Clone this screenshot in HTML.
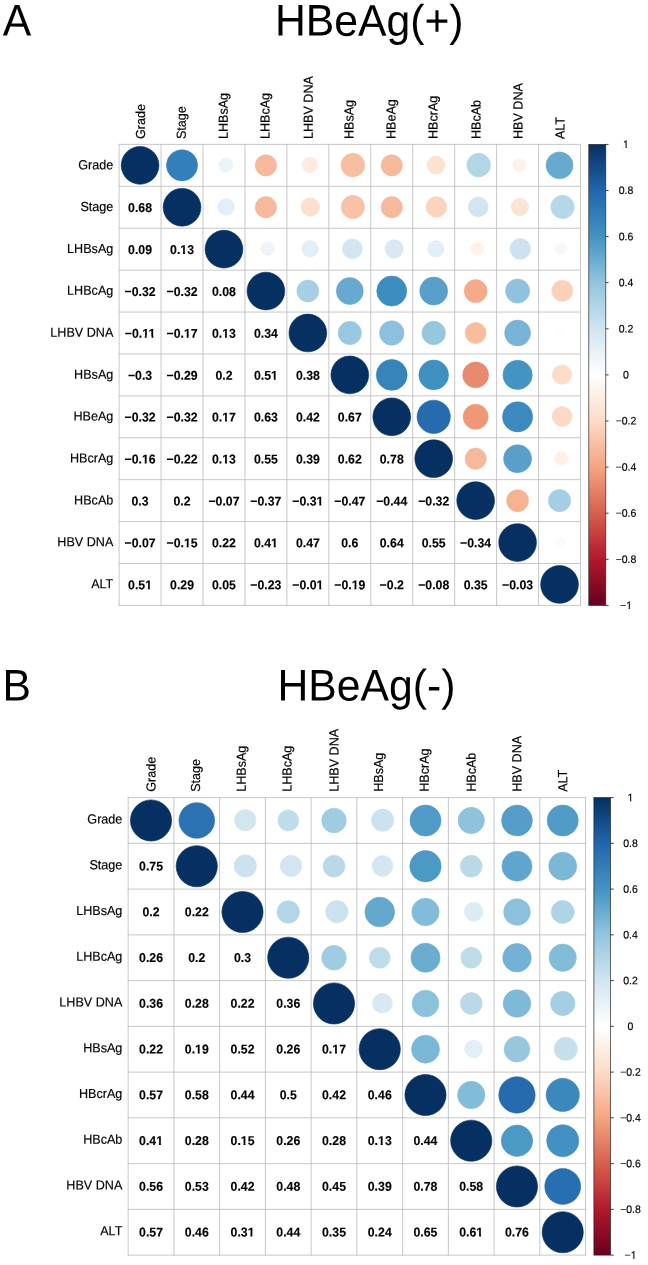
<!DOCTYPE html>
<html lang="en"><head><meta charset="utf-8"><title>Correlation plots</title>
<style>
html,body{margin:0;padding:0;background:#fff;}
body{width:648px;height:1265px;overflow:hidden;font-family:"Liberation Sans", sans-serif;}
svg{display:block;will-change:transform;}
</style></head>
<body>
<svg width="648" height="1265" viewBox="0 0 648 1265" font-family='"Liberation Sans", sans-serif' text-rendering="geometricPrecision">
<rect width="648" height="1265" fill="#fff"/>
<g font-size="42.70" fill="#000">
<text transform="translate(2.70 35.60) rotate(0.03) scale(1 1.035)">A</text>
<text transform="translate(274.95 35.60) rotate(0.03) scale(1 1.035)">HBeAg(+)</text>
<text transform="translate(2.60 700.50) rotate(0.03) scale(1 1.035)">B</text>
<text transform="translate(277.50 700.50) rotate(0.03) scale(1 1.035)">HBeAg(-)</text>
</g>
<circle cx="140.07" cy="165.35" r="18.87" fill="#053061" stroke="#053061" stroke-width="0.60"/>
<circle cx="182.02" cy="165.35" r="15.56" fill="#347FB9" stroke="#347FB9" stroke-width="0.60"/>
<circle cx="225.83" cy="165.05" r="7.16" fill="#E9F3F8" stroke="#E9F3F8" stroke-width="0.60"/>
<circle cx="265.91" cy="165.35" r="10.67" fill="#F7B99B" stroke="#F7B99B" stroke-width="0.60"/>
<circle cx="309.87" cy="165.05" r="7.76" fill="#FEEADF" stroke="#FEEADF" stroke-width="0.60"/>
<circle cx="352.88" cy="165.05" r="11.83" fill="#F8BEA2" stroke="#F8BEA2" stroke-width="0.60"/>
<circle cx="391.75" cy="165.35" r="10.67" fill="#F7B99B" stroke="#F7B99B" stroke-width="0.60"/>
<circle cx="436.04" cy="165.05" r="9.05" fill="#FDE1D1" stroke="#FDE1D1" stroke-width="0.60"/>
<circle cx="478.71" cy="165.05" r="11.83" fill="#B3D6E7" stroke="#B3D6E7" stroke-width="0.60"/>
<circle cx="519.27" cy="165.05" r="6.49" fill="#FEF1EA" stroke="#FEF1EA" stroke-width="0.60"/>
<circle cx="559.53" cy="165.35" r="13.47" fill="#68AACF" stroke="#68AACF" stroke-width="0.60"/>
<circle cx="182.02" cy="207.26" r="18.87" fill="#053061" stroke="#053061" stroke-width="0.60"/>
<circle cx="226.12" cy="206.96" r="8.30" fill="#E2EFF6" stroke="#E2EFF6" stroke-width="0.60"/>
<circle cx="265.91" cy="207.26" r="10.67" fill="#F7B99B" stroke="#F7B99B" stroke-width="0.60"/>
<circle cx="310.27" cy="206.96" r="9.28" fill="#FDDFCE" stroke="#FDDFCE" stroke-width="0.60"/>
<circle cx="352.83" cy="206.96" r="11.66" fill="#F9C1A6" stroke="#F9C1A6" stroke-width="0.60"/>
<circle cx="391.75" cy="207.26" r="10.67" fill="#F7B99B" stroke="#F7B99B" stroke-width="0.60"/>
<circle cx="436.38" cy="206.96" r="10.35" fill="#FCD4BE" stroke="#FCD4BE" stroke-width="0.60"/>
<circle cx="478.22" cy="206.96" r="9.94" fill="#D2E6F0" stroke="#D2E6F0" stroke-width="0.60"/>
<circle cx="519.87" cy="206.96" r="8.81" fill="#FDE3D3" stroke="#FDE3D3" stroke-width="0.60"/>
<circle cx="562.56" cy="206.96" r="11.66" fill="#B6D7E8" stroke="#B6D7E8" stroke-width="0.60"/>
<circle cx="223.96" cy="249.17" r="18.87" fill="#053061" stroke="#053061" stroke-width="0.60"/>
<circle cx="267.69" cy="248.87" r="6.84" fill="#EEF5F9" stroke="#EEF5F9" stroke-width="0.60"/>
<circle cx="310.01" cy="248.87" r="8.30" fill="#E2EFF6" stroke="#E2EFF6" stroke-width="0.60"/>
<circle cx="352.38" cy="248.87" r="9.94" fill="#D2E6F0" stroke="#D2E6F0" stroke-width="0.60"/>
<circle cx="394.16" cy="248.87" r="9.28" fill="#D9E9F3" stroke="#D9E9F3" stroke-width="0.60"/>
<circle cx="435.85" cy="248.87" r="8.30" fill="#E2EFF6" stroke="#E2EFF6" stroke-width="0.60"/>
<circle cx="477.32" cy="248.87" r="6.49" fill="#FEF1EA" stroke="#FEF1EA" stroke-width="0.60"/>
<circle cx="520.27" cy="248.87" r="10.35" fill="#CCE2EF" stroke="#CCE2EF" stroke-width="0.60"/>
<circle cx="561.01" cy="248.87" r="5.72" fill="#F5F9FC" stroke="#F5F9FC" stroke-width="0.60"/>
<circle cx="265.91" cy="291.08" r="18.87" fill="#053061" stroke="#053061" stroke-width="0.60"/>
<circle cx="307.85" cy="291.08" r="11.00" fill="#A6CFE4" stroke="#A6CFE4" stroke-width="0.60"/>
<circle cx="349.80" cy="291.08" r="13.47" fill="#68AACF" stroke="#68AACF" stroke-width="0.60"/>
<circle cx="391.75" cy="291.08" r="14.98" fill="#3E8DC0" stroke="#3E8DC0" stroke-width="0.60"/>
<circle cx="433.69" cy="291.08" r="13.99" fill="#58A0CA" stroke="#58A0CA" stroke-width="0.60"/>
<circle cx="475.64" cy="291.08" r="11.48" fill="#F5AB8A" stroke="#F5AB8A" stroke-width="0.60"/>
<circle cx="517.58" cy="291.08" r="12.08" fill="#8FC3DD" stroke="#8FC3DD" stroke-width="0.60"/>
<circle cx="562.27" cy="290.78" r="10.55" fill="#FBD1BB" stroke="#FBD1BB" stroke-width="0.60"/>
<circle cx="307.85" cy="332.99" r="18.87" fill="#053061" stroke="#053061" stroke-width="0.60"/>
<circle cx="349.80" cy="332.99" r="11.63" fill="#99C9E0" stroke="#99C9E0" stroke-width="0.60"/>
<circle cx="391.75" cy="332.99" r="12.23" fill="#8BC1DC" stroke="#8BC1DC" stroke-width="0.60"/>
<circle cx="433.69" cy="332.99" r="11.78" fill="#96C7DF" stroke="#96C7DF" stroke-width="0.60"/>
<circle cx="475.64" cy="332.99" r="10.50" fill="#F8BC9F" stroke="#F8BC9F" stroke-width="0.60"/>
<circle cx="517.58" cy="332.99" r="12.93" fill="#77B4D5" stroke="#77B4D5" stroke-width="0.60"/>
<circle cx="560.41" cy="332.69" r="3.39" fill="#FFFCFB" stroke="#FFFCFB" stroke-width="0.60"/>
<circle cx="349.80" cy="374.90" r="18.87" fill="#053061" stroke="#053061" stroke-width="0.60"/>
<circle cx="391.75" cy="374.90" r="15.44" fill="#3784BB" stroke="#3784BB" stroke-width="0.60"/>
<circle cx="433.69" cy="374.90" r="14.86" fill="#408FC1" stroke="#408FC1" stroke-width="0.60"/>
<circle cx="475.64" cy="374.90" r="12.93" fill="#E88A6D" stroke="#E88A6D" stroke-width="0.60"/>
<circle cx="517.58" cy="374.90" r="14.61" fill="#4494C3" stroke="#4494C3" stroke-width="0.60"/>
<circle cx="562.06" cy="374.60" r="9.72" fill="#FDDCC8" stroke="#FDDCC8" stroke-width="0.60"/>
<circle cx="391.75" cy="416.81" r="18.87" fill="#053061" stroke="#053061" stroke-width="0.60"/>
<circle cx="433.69" cy="416.81" r="16.66" fill="#256BAE" stroke="#256BAE" stroke-width="0.60"/>
<circle cx="475.64" cy="416.81" r="12.52" fill="#EE9878" stroke="#EE9878" stroke-width="0.60"/>
<circle cx="517.58" cy="416.81" r="15.09" fill="#3D8ABF" stroke="#3D8ABF" stroke-width="0.60"/>
<circle cx="562.11" cy="416.51" r="9.94" fill="#FDD9C5" stroke="#FDD9C5" stroke-width="0.60"/>
<circle cx="433.69" cy="458.72" r="18.87" fill="#053061" stroke="#053061" stroke-width="0.60"/>
<circle cx="475.64" cy="458.72" r="10.67" fill="#F7B99B" stroke="#F7B99B" stroke-width="0.60"/>
<circle cx="517.58" cy="458.72" r="13.99" fill="#58A0CA" stroke="#58A0CA" stroke-width="0.60"/>
<circle cx="561.30" cy="458.42" r="6.84" fill="#FEF0E7" stroke="#FEF0E7" stroke-width="0.60"/>
<circle cx="475.64" cy="500.63" r="18.87" fill="#053061" stroke="#053061" stroke-width="0.60"/>
<circle cx="517.58" cy="500.63" r="11.00" fill="#F6B394" stroke="#F6B394" stroke-width="0.60"/>
<circle cx="559.53" cy="500.63" r="11.16" fill="#A3CEE3" stroke="#A3CEE3" stroke-width="0.60"/>
<circle cx="517.58" cy="542.54" r="18.87" fill="#053061" stroke="#053061" stroke-width="0.60"/>
<circle cx="560.77" cy="542.24" r="4.77" fill="#FFF9F5" stroke="#FFF9F5" stroke-width="0.60"/>
<circle cx="559.53" cy="584.45" r="18.87" fill="#053061" stroke="#053061" stroke-width="0.60"/>
<path d="M119.10 144.40V605.40M119.10 144.40H580.50M161.05 144.40V605.40M119.10 186.31H580.50M202.99 144.40V605.40M119.10 228.22H580.50M244.94 144.40V605.40M119.10 270.13H580.50M286.88 144.40V605.40M119.10 312.04H580.50M328.83 144.40V605.40M119.10 353.95H580.50M370.77 144.40V605.40M119.10 395.85H580.50M412.72 144.40V605.40M119.10 437.76H580.50M454.66 144.40V605.40M119.10 479.67H580.50M496.61 144.40V605.40M119.10 521.58H580.50M538.55 144.40V605.40M119.10 563.49H580.50M580.50 144.40V605.40M119.10 605.40H580.50" fill="none" stroke="#BDBDBD" stroke-width="0.85" stroke-linecap="square"/>
<g font-size="12.30" font-weight="bold" text-anchor="middle" fill="#000" stroke="#000" stroke-width="0.12">
<text transform="translate(140.07 212.06) rotate(0.03) scale(1 1.04)">0.68</text>
<text transform="translate(140.07 253.97) rotate(0.03) scale(1 1.04)">0.09</text>
<text transform="translate(182.02 253.97) rotate(0.03) scale(1 1.04)">0.13</text>
<text transform="translate(140.07 295.88) rotate(0.03) scale(1 1.04)">−0.32</text>
<text transform="translate(182.02 295.88) rotate(0.03) scale(1 1.04)">−0.32</text>
<text transform="translate(223.96 295.88) rotate(0.03) scale(1 1.04)">0.08</text>
<text transform="translate(140.07 337.79) rotate(0.03) scale(1 1.04)">−0.11</text>
<text transform="translate(182.02 337.79) rotate(0.03) scale(1 1.04)">−0.17</text>
<text transform="translate(223.96 337.79) rotate(0.03) scale(1 1.04)">0.13</text>
<text transform="translate(265.91 337.79) rotate(0.03) scale(1 1.04)">0.34</text>
<text transform="translate(140.07 379.70) rotate(0.03) scale(1 1.04)">−0.3</text>
<text transform="translate(182.02 379.70) rotate(0.03) scale(1 1.04)">−0.29</text>
<text transform="translate(223.96 379.70) rotate(0.03) scale(1 1.04)">0.2</text>
<text transform="translate(265.91 379.70) rotate(0.03) scale(1 1.04)">0.51</text>
<text transform="translate(307.85 379.70) rotate(0.03) scale(1 1.04)">0.38</text>
<text transform="translate(140.07 421.61) rotate(0.03) scale(1 1.04)">−0.32</text>
<text transform="translate(182.02 421.61) rotate(0.03) scale(1 1.04)">−0.32</text>
<text transform="translate(223.96 421.61) rotate(0.03) scale(1 1.04)">0.17</text>
<text transform="translate(265.91 421.61) rotate(0.03) scale(1 1.04)">0.63</text>
<text transform="translate(307.85 421.61) rotate(0.03) scale(1 1.04)">0.42</text>
<text transform="translate(349.80 421.61) rotate(0.03) scale(1 1.04)">0.67</text>
<text transform="translate(140.07 463.52) rotate(0.03) scale(1 1.04)">−0.16</text>
<text transform="translate(182.02 463.52) rotate(0.03) scale(1 1.04)">−0.22</text>
<text transform="translate(223.96 463.52) rotate(0.03) scale(1 1.04)">0.13</text>
<text transform="translate(265.91 463.52) rotate(0.03) scale(1 1.04)">0.55</text>
<text transform="translate(307.85 463.52) rotate(0.03) scale(1 1.04)">0.39</text>
<text transform="translate(349.80 463.52) rotate(0.03) scale(1 1.04)">0.62</text>
<text transform="translate(391.75 463.52) rotate(0.03) scale(1 1.04)">0.78</text>
<text transform="translate(140.07 505.43) rotate(0.03) scale(1 1.04)">0.3</text>
<text transform="translate(182.02 505.43) rotate(0.03) scale(1 1.04)">0.2</text>
<text transform="translate(223.96 505.43) rotate(0.03) scale(1 1.04)">−0.07</text>
<text transform="translate(265.91 505.43) rotate(0.03) scale(1 1.04)">−0.37</text>
<text transform="translate(307.85 505.43) rotate(0.03) scale(1 1.04)">−0.31</text>
<text transform="translate(349.80 505.43) rotate(0.03) scale(1 1.04)">−0.47</text>
<text transform="translate(391.75 505.43) rotate(0.03) scale(1 1.04)">−0.44</text>
<text transform="translate(433.69 505.43) rotate(0.03) scale(1 1.04)">−0.32</text>
<text transform="translate(140.07 547.34) rotate(0.03) scale(1 1.04)">−0.07</text>
<text transform="translate(182.02 547.34) rotate(0.03) scale(1 1.04)">−0.15</text>
<text transform="translate(223.96 547.34) rotate(0.03) scale(1 1.04)">0.22</text>
<text transform="translate(265.91 547.34) rotate(0.03) scale(1 1.04)">0.41</text>
<text transform="translate(307.85 547.34) rotate(0.03) scale(1 1.04)">0.47</text>
<text transform="translate(349.80 547.34) rotate(0.03) scale(1 1.04)">0.6</text>
<text transform="translate(391.75 547.34) rotate(0.03) scale(1 1.04)">0.64</text>
<text transform="translate(433.69 547.34) rotate(0.03) scale(1 1.04)">0.55</text>
<text transform="translate(475.64 547.34) rotate(0.03) scale(1 1.04)">−0.34</text>
<text transform="translate(140.07 589.25) rotate(0.03) scale(1 1.04)">0.51</text>
<text transform="translate(182.02 589.25) rotate(0.03) scale(1 1.04)">0.29</text>
<text transform="translate(223.96 589.25) rotate(0.03) scale(1 1.04)">0.05</text>
<text transform="translate(265.91 589.25) rotate(0.03) scale(1 1.04)">−0.23</text>
<text transform="translate(307.85 589.25) rotate(0.03) scale(1 1.04)">−0.01</text>
<text transform="translate(349.80 589.25) rotate(0.03) scale(1 1.04)">−0.19</text>
<text transform="translate(391.75 589.25) rotate(0.03) scale(1 1.04)">−0.2</text>
<text transform="translate(433.69 589.25) rotate(0.03) scale(1 1.04)">−0.08</text>
<text transform="translate(475.64 589.25) rotate(0.03) scale(1 1.04)">0.35</text>
<text transform="translate(517.58 589.25) rotate(0.03) scale(1 1.04)">−0.03</text>
</g>
<rect x="180.57" y="252.21" width="2.45" height="2.28" fill="#fff"/>
<rect x="185.03" y="252.21" width="2.29" height="2.28" fill="#fff"/>
<rect x="142.22" y="336.03" width="2.45" height="2.28" fill="#fff"/>
<rect x="146.67" y="336.03" width="2.29" height="2.28" fill="#fff"/>
<rect x="149.06" y="336.03" width="2.45" height="2.28" fill="#fff"/>
<rect x="153.51" y="336.03" width="2.29" height="2.28" fill="#fff"/>
<rect x="184.16" y="336.03" width="2.45" height="2.28" fill="#fff"/>
<rect x="188.62" y="336.03" width="2.29" height="2.28" fill="#fff"/>
<rect x="222.52" y="336.03" width="2.45" height="2.28" fill="#fff"/>
<rect x="226.97" y="336.03" width="2.29" height="2.28" fill="#fff"/>
<rect x="271.30" y="377.93" width="2.45" height="2.28" fill="#fff"/>
<rect x="275.76" y="377.93" width="2.29" height="2.28" fill="#fff"/>
<rect x="222.52" y="419.84" width="2.45" height="2.28" fill="#fff"/>
<rect x="226.97" y="419.84" width="2.29" height="2.28" fill="#fff"/>
<rect x="142.22" y="461.75" width="2.45" height="2.28" fill="#fff"/>
<rect x="146.67" y="461.75" width="2.29" height="2.28" fill="#fff"/>
<rect x="222.52" y="461.75" width="2.45" height="2.28" fill="#fff"/>
<rect x="226.97" y="461.75" width="2.29" height="2.28" fill="#fff"/>
<rect x="316.84" y="503.66" width="2.45" height="2.28" fill="#fff"/>
<rect x="321.29" y="503.66" width="2.29" height="2.28" fill="#fff"/>
<rect x="184.16" y="545.57" width="2.45" height="2.28" fill="#fff"/>
<rect x="188.62" y="545.57" width="2.29" height="2.28" fill="#fff"/>
<rect x="271.30" y="545.57" width="2.45" height="2.28" fill="#fff"/>
<rect x="275.76" y="545.57" width="2.29" height="2.28" fill="#fff"/>
<rect x="145.47" y="587.48" width="2.45" height="2.28" fill="#fff"/>
<rect x="149.92" y="587.48" width="2.29" height="2.28" fill="#fff"/>
<rect x="316.84" y="587.48" width="2.45" height="2.28" fill="#fff"/>
<rect x="321.29" y="587.48" width="2.29" height="2.28" fill="#fff"/>
<rect x="351.95" y="587.48" width="2.45" height="2.28" fill="#fff"/>
<rect x="356.40" y="587.48" width="2.29" height="2.28" fill="#fff"/>
<g font-size="12.60" text-anchor="end" fill="#000" stroke="#000" stroke-width="0.16">
<text transform="translate(113.30 169.15) rotate(0.03) scale(1 1.04)">Grade</text>
<text transform="translate(113.30 211.06) rotate(0.03) scale(1 1.04)">Stage</text>
<text transform="translate(113.30 252.97) rotate(0.03) scale(1 1.04)">LHBsAg</text>
<text transform="translate(113.30 294.88) rotate(0.03) scale(1 1.04)">LHBcAg</text>
<text transform="translate(113.30 336.79) rotate(0.03) scale(1 1.04)">LHBV DNA</text>
<text transform="translate(113.30 378.70) rotate(0.03) scale(1 1.04)">HBsAg</text>
<text transform="translate(113.30 420.61) rotate(0.03) scale(1 1.04)">HBeAg</text>
<text transform="translate(113.30 462.52) rotate(0.03) scale(1 1.04)">HBcrAg</text>
<text transform="translate(113.30 504.43) rotate(0.03) scale(1 1.04)">HBcAb</text>
<text transform="translate(113.30 546.34) rotate(0.03) scale(1 1.04)">HBV DNA</text>
<text transform="translate(113.30 588.25) rotate(0.03) scale(1 1.04)">ALT</text>
</g>
<g font-size="12.60" text-anchor="start" fill="#000" stroke="#000" stroke-width="0.16">
<text transform="translate(144.97 139.10) rotate(-90.03) scale(1 1.04)">Grade</text>
<text transform="translate(185.72 139.10) rotate(-90.03) scale(1 1.04)">Stage</text>
<text transform="translate(227.66 139.10) rotate(-90.03) scale(1 1.04)">LHBsAg</text>
<text transform="translate(269.61 139.10) rotate(-90.03) scale(1 1.04)">LHBcAg</text>
<text transform="translate(312.75 139.10) rotate(-90.03) scale(1 1.04)">LHBV DNA</text>
<text transform="translate(353.50 139.10) rotate(-90.03) scale(1 1.04)">HBsAg</text>
<text transform="translate(395.45 139.10) rotate(-90.03) scale(1 1.04)">HBeAg</text>
<text transform="translate(437.39 139.10) rotate(-90.03) scale(1 1.04)">HBcrAg</text>
<text transform="translate(480.54 139.10) rotate(-90.03) scale(1 1.04)">HBcAb</text>
<text transform="translate(522.48 139.10) rotate(-90.03) scale(1 1.04)">HBV DNA</text>
<text transform="translate(564.43 139.10) rotate(-90.03) scale(1 1.04)">ALT</text>
</g>
<defs><linearGradient id="cba" x1="0" y1="0" x2="0" y2="1"><stop offset="0.0%" stop-color="#053061"/><stop offset="10.0%" stop-color="#2166AC"/><stop offset="20.0%" stop-color="#4393C3"/><stop offset="30.0%" stop-color="#92C5DE"/><stop offset="40.0%" stop-color="#D1E5F0"/><stop offset="50.0%" stop-color="#FFFFFF"/><stop offset="60.0%" stop-color="#FDDBC7"/><stop offset="70.0%" stop-color="#F4A582"/><stop offset="80.0%" stop-color="#D6604D"/><stop offset="90.0%" stop-color="#B2182B"/><stop offset="100.0%" stop-color="#67001F"/></linearGradient></defs>
<rect x="588.80" y="144.40" width="17.00" height="461.00" fill="url(#cba)" stroke="#2a2a2a" stroke-width="0.7"/>
<path d="M605.80 144.40H608.60M605.80 190.50H608.60M605.80 236.60H608.60M605.80 282.70H608.60M605.80 328.80H608.60M605.80 374.90H608.60M605.80 421.00H608.60M605.80 467.10H608.60M605.80 513.20H608.60M605.80 559.30H608.60M605.80 605.40H608.60" fill="none" stroke="#111" stroke-width="0.8"/>
<g font-size="10.50" text-anchor="middle" fill="#000" stroke="#000" stroke-width="0.16">
<text transform="translate(626.00 148.00) rotate(0.03) scale(1 1.04)">1</text>
<text transform="translate(626.00 194.10) rotate(0.03) scale(1 1.04)">0.8</text>
<text transform="translate(626.00 240.20) rotate(0.03) scale(1 1.04)">0.6</text>
<text transform="translate(626.00 286.30) rotate(0.03) scale(1 1.04)">0.4</text>
<text transform="translate(626.00 332.40) rotate(0.03) scale(1 1.04)">0.2</text>
<text transform="translate(626.00 378.50) rotate(0.03) scale(1 1.04)">0</text>
<text transform="translate(626.00 424.60) rotate(0.03) scale(1 1.04)">−0.2</text>
<text transform="translate(626.00 470.70) rotate(0.03) scale(1 1.04)">−0.4</text>
<text transform="translate(626.00 516.80) rotate(0.03) scale(1 1.04)">−0.6</text>
<text transform="translate(626.00 562.90) rotate(0.03) scale(1 1.04)">−0.8</text>
<text transform="translate(626.00 609.00) rotate(0.03) scale(1 1.04)">−1</text>
</g>
<rect x="623.35" y="146.69" width="2.19" height="1.84" fill="#fff"/>
<rect x="626.83" y="146.69" width="2.11" height="1.84" fill="#fff"/>
<rect x="626.42" y="607.69" width="2.19" height="1.84" fill="#fff"/>
<rect x="629.90" y="607.69" width="2.11" height="1.84" fill="#fff"/>
<circle cx="151.02" cy="820.48" r="20.59" fill="#053061" stroke="#053061" stroke-width="0.60"/>
<circle cx="196.77" cy="820.48" r="17.83" fill="#2A72B2" stroke="#2A72B2" stroke-width="0.60"/>
<circle cx="245.30" cy="820.18" r="10.71" fill="#D2E6F0" stroke="#D2E6F0" stroke-width="0.60"/>
<circle cx="288.26" cy="820.48" r="10.50" fill="#BFDCEB" stroke="#BFDCEB" stroke-width="0.60"/>
<circle cx="334.00" cy="820.48" r="12.35" fill="#A0CCE2" stroke="#A0CCE2" stroke-width="0.60"/>
<circle cx="382.65" cy="820.18" r="11.16" fill="#CCE2EF" stroke="#CCE2EF" stroke-width="0.60"/>
<circle cx="425.49" cy="820.48" r="15.54" fill="#509BC7" stroke="#509BC7" stroke-width="0.60"/>
<circle cx="471.24" cy="820.48" r="13.18" fill="#8FC3DD" stroke="#8FC3DD" stroke-width="0.60"/>
<circle cx="516.98" cy="820.48" r="15.41" fill="#549EC9" stroke="#549EC9" stroke-width="0.60"/>
<circle cx="562.73" cy="820.48" r="15.54" fill="#509BC7" stroke="#509BC7" stroke-width="0.60"/>
<circle cx="196.77" cy="866.23" r="20.59" fill="#053061" stroke="#053061" stroke-width="0.60"/>
<circle cx="245.41" cy="865.93" r="11.16" fill="#CCE2EF" stroke="#CCE2EF" stroke-width="0.60"/>
<circle cx="291.04" cy="865.93" r="10.71" fill="#D2E6F0" stroke="#D2E6F0" stroke-width="0.60"/>
<circle cx="334.00" cy="866.23" r="10.89" fill="#B9D9E9" stroke="#B9D9E9" stroke-width="0.60"/>
<circle cx="382.47" cy="865.93" r="10.47" fill="#D4E7F1" stroke="#D4E7F1" stroke-width="0.60"/>
<circle cx="425.49" cy="866.23" r="15.68" fill="#4C99C6" stroke="#4C99C6" stroke-width="0.60"/>
<circle cx="471.24" cy="866.23" r="10.89" fill="#B9D9E9" stroke="#B9D9E9" stroke-width="0.60"/>
<circle cx="516.98" cy="866.23" r="14.99" fill="#60A5CD" stroke="#60A5CD" stroke-width="0.60"/>
<circle cx="562.73" cy="866.23" r="13.96" fill="#7BB7D6" stroke="#7BB7D6" stroke-width="0.60"/>
<circle cx="242.51" cy="911.98" r="20.59" fill="#053061" stroke="#053061" stroke-width="0.60"/>
<circle cx="288.26" cy="911.98" r="11.28" fill="#B3D6E7" stroke="#B3D6E7" stroke-width="0.60"/>
<circle cx="336.90" cy="911.68" r="11.16" fill="#CCE2EF" stroke="#CCE2EF" stroke-width="0.60"/>
<circle cx="379.75" cy="911.98" r="14.85" fill="#64A8CE" stroke="#64A8CE" stroke-width="0.60"/>
<circle cx="425.49" cy="911.98" r="13.66" fill="#83BCD9" stroke="#83BCD9" stroke-width="0.60"/>
<circle cx="473.70" cy="911.68" r="9.47" fill="#DDECF4" stroke="#DDECF4" stroke-width="0.60"/>
<circle cx="516.98" cy="911.98" r="13.34" fill="#8BC1DC" stroke="#8BC1DC" stroke-width="0.60"/>
<circle cx="562.73" cy="911.98" r="11.46" fill="#AFD4E6" stroke="#AFD4E6" stroke-width="0.60"/>
<circle cx="288.26" cy="957.72" r="20.59" fill="#053061" stroke="#053061" stroke-width="0.60"/>
<circle cx="334.00" cy="957.72" r="12.35" fill="#A0CCE2" stroke="#A0CCE2" stroke-width="0.60"/>
<circle cx="379.75" cy="957.72" r="10.50" fill="#BFDCEB" stroke="#BFDCEB" stroke-width="0.60"/>
<circle cx="425.49" cy="957.72" r="14.56" fill="#6BADD1" stroke="#6BADD1" stroke-width="0.60"/>
<circle cx="471.24" cy="957.72" r="10.50" fill="#BFDCEB" stroke="#BFDCEB" stroke-width="0.60"/>
<circle cx="516.98" cy="957.72" r="14.26" fill="#73B2D4" stroke="#73B2D4" stroke-width="0.60"/>
<circle cx="562.73" cy="957.72" r="13.66" fill="#83BCD9" stroke="#83BCD9" stroke-width="0.60"/>
<circle cx="334.00" cy="1003.47" r="20.59" fill="#053061" stroke="#053061" stroke-width="0.60"/>
<circle cx="382.34" cy="1003.17" r="9.99" fill="#D9E9F3" stroke="#D9E9F3" stroke-width="0.60"/>
<circle cx="425.49" cy="1003.47" r="13.34" fill="#8BC1DC" stroke="#8BC1DC" stroke-width="0.60"/>
<circle cx="471.24" cy="1003.47" r="10.89" fill="#B9D9E9" stroke="#B9D9E9" stroke-width="0.60"/>
<circle cx="516.98" cy="1003.47" r="13.81" fill="#7FB9D8" stroke="#7FB9D8" stroke-width="0.60"/>
<circle cx="562.73" cy="1003.47" r="12.18" fill="#A3CEE3" stroke="#A3CEE3" stroke-width="0.60"/>
<circle cx="379.75" cy="1049.22" r="20.59" fill="#053061" stroke="#053061" stroke-width="0.60"/>
<circle cx="425.49" cy="1049.22" r="13.96" fill="#7BB7D6" stroke="#7BB7D6" stroke-width="0.60"/>
<circle cx="473.56" cy="1048.92" r="8.92" fill="#E2EFF6" stroke="#E2EFF6" stroke-width="0.60"/>
<circle cx="516.98" cy="1049.22" r="12.86" fill="#96C7DF" stroke="#96C7DF" stroke-width="0.60"/>
<circle cx="565.74" cy="1048.92" r="11.59" fill="#C6DFED" stroke="#C6DFED" stroke-width="0.60"/>
<circle cx="425.49" cy="1094.97" r="20.59" fill="#053061" stroke="#053061" stroke-width="0.60"/>
<circle cx="471.24" cy="1094.97" r="13.66" fill="#83BCD9" stroke="#83BCD9" stroke-width="0.60"/>
<circle cx="516.98" cy="1094.97" r="18.18" fill="#256BAE" stroke="#256BAE" stroke-width="0.60"/>
<circle cx="562.73" cy="1094.97" r="16.60" fill="#3B88BD" stroke="#3B88BD" stroke-width="0.60"/>
<circle cx="471.24" cy="1140.72" r="20.59" fill="#053061" stroke="#053061" stroke-width="0.60"/>
<circle cx="516.98" cy="1140.72" r="15.68" fill="#4C99C6" stroke="#4C99C6" stroke-width="0.60"/>
<circle cx="562.73" cy="1140.72" r="16.08" fill="#4291C2" stroke="#4291C2" stroke-width="0.60"/>
<circle cx="516.98" cy="1186.47" r="20.59" fill="#053061" stroke="#053061" stroke-width="0.60"/>
<circle cx="562.73" cy="1186.47" r="17.95" fill="#286FB1" stroke="#286FB1" stroke-width="0.60"/>
<circle cx="562.73" cy="1232.22" r="20.59" fill="#053061" stroke="#053061" stroke-width="0.60"/>
<path d="M128.15 797.60V1255.10M128.15 797.60H585.60M173.90 797.60V1255.10M128.15 843.35H585.60M219.64 797.60V1255.10M128.15 889.10H585.60M265.38 797.60V1255.10M128.15 934.85H585.60M311.13 797.60V1255.10M128.15 980.60H585.60M356.88 797.60V1255.10M128.15 1026.35H585.60M402.62 797.60V1255.10M128.15 1072.10H585.60M448.37 797.60V1255.10M128.15 1117.85H585.60M494.11 797.60V1255.10M128.15 1163.60H585.60M539.86 797.60V1255.10M128.15 1209.35H585.60M585.60 797.60V1255.10M128.15 1255.10H585.60" fill="none" stroke="#BDBDBD" stroke-width="0.85" stroke-linecap="square"/>
<g font-size="12.30" font-weight="bold" text-anchor="middle" fill="#000" stroke="#000" stroke-width="0.12">
<text transform="translate(151.02 870.52) rotate(0.03) scale(1 1.04)">0.75</text>
<text transform="translate(151.02 916.27) rotate(0.03) scale(1 1.04)">0.2</text>
<text transform="translate(196.77 916.27) rotate(0.03) scale(1 1.04)">0.22</text>
<text transform="translate(151.02 962.02) rotate(0.03) scale(1 1.04)">0.26</text>
<text transform="translate(196.77 962.02) rotate(0.03) scale(1 1.04)">0.2</text>
<text transform="translate(242.51 962.02) rotate(0.03) scale(1 1.04)">0.3</text>
<text transform="translate(151.02 1007.77) rotate(0.03) scale(1 1.04)">0.36</text>
<text transform="translate(196.77 1007.77) rotate(0.03) scale(1 1.04)">0.28</text>
<text transform="translate(242.51 1007.77) rotate(0.03) scale(1 1.04)">0.22</text>
<text transform="translate(288.26 1007.77) rotate(0.03) scale(1 1.04)">0.36</text>
<text transform="translate(151.02 1053.52) rotate(0.03) scale(1 1.04)">0.22</text>
<text transform="translate(196.77 1053.52) rotate(0.03) scale(1 1.04)">0.19</text>
<text transform="translate(242.51 1053.52) rotate(0.03) scale(1 1.04)">0.52</text>
<text transform="translate(288.26 1053.52) rotate(0.03) scale(1 1.04)">0.26</text>
<text transform="translate(334.00 1053.52) rotate(0.03) scale(1 1.04)">0.17</text>
<text transform="translate(151.02 1099.27) rotate(0.03) scale(1 1.04)">0.57</text>
<text transform="translate(196.77 1099.27) rotate(0.03) scale(1 1.04)">0.58</text>
<text transform="translate(242.51 1099.27) rotate(0.03) scale(1 1.04)">0.44</text>
<text transform="translate(288.26 1099.27) rotate(0.03) scale(1 1.04)">0.5</text>
<text transform="translate(334.00 1099.27) rotate(0.03) scale(1 1.04)">0.42</text>
<text transform="translate(379.75 1099.27) rotate(0.03) scale(1 1.04)">0.46</text>
<text transform="translate(151.02 1145.02) rotate(0.03) scale(1 1.04)">0.41</text>
<text transform="translate(196.77 1145.02) rotate(0.03) scale(1 1.04)">0.28</text>
<text transform="translate(242.51 1145.02) rotate(0.03) scale(1 1.04)">0.15</text>
<text transform="translate(288.26 1145.02) rotate(0.03) scale(1 1.04)">0.26</text>
<text transform="translate(334.00 1145.02) rotate(0.03) scale(1 1.04)">0.28</text>
<text transform="translate(379.75 1145.02) rotate(0.03) scale(1 1.04)">0.13</text>
<text transform="translate(425.49 1145.02) rotate(0.03) scale(1 1.04)">0.44</text>
<text transform="translate(151.02 1190.77) rotate(0.03) scale(1 1.04)">0.56</text>
<text transform="translate(196.77 1190.77) rotate(0.03) scale(1 1.04)">0.53</text>
<text transform="translate(242.51 1190.77) rotate(0.03) scale(1 1.04)">0.42</text>
<text transform="translate(288.26 1190.77) rotate(0.03) scale(1 1.04)">0.48</text>
<text transform="translate(334.00 1190.77) rotate(0.03) scale(1 1.04)">0.45</text>
<text transform="translate(379.75 1190.77) rotate(0.03) scale(1 1.04)">0.39</text>
<text transform="translate(425.49 1190.77) rotate(0.03) scale(1 1.04)">0.78</text>
<text transform="translate(471.24 1190.77) rotate(0.03) scale(1 1.04)">0.58</text>
<text transform="translate(151.02 1236.52) rotate(0.03) scale(1 1.04)">0.57</text>
<text transform="translate(196.77 1236.52) rotate(0.03) scale(1 1.04)">0.46</text>
<text transform="translate(242.51 1236.52) rotate(0.03) scale(1 1.04)">0.31</text>
<text transform="translate(288.26 1236.52) rotate(0.03) scale(1 1.04)">0.44</text>
<text transform="translate(334.00 1236.52) rotate(0.03) scale(1 1.04)">0.35</text>
<text transform="translate(379.75 1236.52) rotate(0.03) scale(1 1.04)">0.24</text>
<text transform="translate(425.49 1236.52) rotate(0.03) scale(1 1.04)">0.65</text>
<text transform="translate(471.24 1236.52) rotate(0.03) scale(1 1.04)">0.61</text>
<text transform="translate(516.98 1236.52) rotate(0.03) scale(1 1.04)">0.76</text>
</g>
<rect x="195.32" y="1051.76" width="2.45" height="2.28" fill="#fff"/>
<rect x="199.78" y="1051.76" width="2.29" height="2.28" fill="#fff"/>
<rect x="332.56" y="1051.76" width="2.45" height="2.28" fill="#fff"/>
<rect x="337.01" y="1051.76" width="2.29" height="2.28" fill="#fff"/>
<rect x="156.42" y="1143.26" width="2.45" height="2.28" fill="#fff"/>
<rect x="160.87" y="1143.26" width="2.29" height="2.28" fill="#fff"/>
<rect x="241.07" y="1143.26" width="2.45" height="2.28" fill="#fff"/>
<rect x="245.52" y="1143.26" width="2.29" height="2.28" fill="#fff"/>
<rect x="378.30" y="1143.26" width="2.45" height="2.28" fill="#fff"/>
<rect x="382.76" y="1143.26" width="2.29" height="2.28" fill="#fff"/>
<rect x="247.91" y="1234.76" width="2.45" height="2.28" fill="#fff"/>
<rect x="252.36" y="1234.76" width="2.29" height="2.28" fill="#fff"/>
<rect x="476.63" y="1234.76" width="2.45" height="2.28" fill="#fff"/>
<rect x="481.09" y="1234.76" width="2.29" height="2.28" fill="#fff"/>
<g font-size="12.60" text-anchor="end" fill="#000" stroke="#000" stroke-width="0.16">
<text transform="translate(122.35 823.42) rotate(0.03) scale(1 1.04)">Grade</text>
<text transform="translate(122.35 869.17) rotate(0.03) scale(1 1.04)">Stage</text>
<text transform="translate(122.35 914.92) rotate(0.03) scale(1 1.04)">LHBsAg</text>
<text transform="translate(122.35 960.67) rotate(0.03) scale(1 1.04)">LHBcAg</text>
<text transform="translate(122.35 1006.42) rotate(0.03) scale(1 1.04)">LHBV DNA</text>
<text transform="translate(122.35 1052.17) rotate(0.03) scale(1 1.04)">HBsAg</text>
<text transform="translate(122.35 1097.92) rotate(0.03) scale(1 1.04)">HBcrAg</text>
<text transform="translate(122.35 1143.67) rotate(0.03) scale(1 1.04)">HBcAb</text>
<text transform="translate(122.35 1189.42) rotate(0.03) scale(1 1.04)">HBV DNA</text>
<text transform="translate(122.35 1235.17) rotate(0.03) scale(1 1.04)">ALT</text>
</g>
<g font-size="12.60" text-anchor="start" fill="#000" stroke="#000" stroke-width="0.16">
<text transform="translate(155.42 791.85) rotate(-90.03) scale(1 1.04)">Grade</text>
<text transform="translate(199.97 791.85) rotate(-90.03) scale(1 1.04)">Stage</text>
<text transform="translate(245.71 791.85) rotate(-90.03) scale(1 1.04)">LHBsAg</text>
<text transform="translate(291.46 791.85) rotate(-90.03) scale(1 1.04)">LHBcAg</text>
<text transform="translate(338.40 791.85) rotate(-90.03) scale(1 1.04)">LHBV DNA</text>
<text transform="translate(382.95 791.85) rotate(-90.03) scale(1 1.04)">HBsAg</text>
<text transform="translate(428.69 791.85) rotate(-90.03) scale(1 1.04)">HBcrAg</text>
<text transform="translate(475.64 791.85) rotate(-90.03) scale(1 1.04)">HBcAb</text>
<text transform="translate(521.38 791.85) rotate(-90.03) scale(1 1.04)">HBV DNA</text>
<text transform="translate(567.13 791.85) rotate(-90.03) scale(1 1.04)">ALT</text>
</g>
<defs><linearGradient id="cbb" x1="0" y1="0" x2="0" y2="1"><stop offset="0.0%" stop-color="#053061"/><stop offset="10.0%" stop-color="#2166AC"/><stop offset="20.0%" stop-color="#4393C3"/><stop offset="30.0%" stop-color="#92C5DE"/><stop offset="40.0%" stop-color="#D1E5F0"/><stop offset="50.0%" stop-color="#FFFFFF"/><stop offset="60.0%" stop-color="#FDDBC7"/><stop offset="70.0%" stop-color="#F4A582"/><stop offset="80.0%" stop-color="#D6604D"/><stop offset="90.0%" stop-color="#B2182B"/><stop offset="100.0%" stop-color="#67001F"/></linearGradient></defs>
<rect x="593.90" y="797.60" width="16.70" height="457.50" fill="url(#cbb)" stroke="#2a2a2a" stroke-width="0.7"/>
<path d="M610.60 797.60H613.80M610.60 843.35H613.80M610.60 889.10H613.80M610.60 934.85H613.80M610.60 980.60H613.80M610.60 1026.35H613.80M610.60 1072.10H613.80M610.60 1117.85H613.80M610.60 1163.60H613.80M610.60 1209.35H613.80M610.60 1255.10H613.80" fill="none" stroke="#111" stroke-width="0.8"/>
<g font-size="10.50" text-anchor="middle" fill="#000" stroke="#000" stroke-width="0.16">
<text transform="translate(630.50 801.20) rotate(0.03) scale(1 1.04)">1</text>
<text transform="translate(630.50 846.95) rotate(0.03) scale(1 1.04)">0.8</text>
<text transform="translate(630.50 892.70) rotate(0.03) scale(1 1.04)">0.6</text>
<text transform="translate(630.50 938.45) rotate(0.03) scale(1 1.04)">0.4</text>
<text transform="translate(630.50 984.20) rotate(0.03) scale(1 1.04)">0.2</text>
<text transform="translate(630.50 1029.95) rotate(0.03) scale(1 1.04)">0</text>
<text transform="translate(630.50 1075.70) rotate(0.03) scale(1 1.04)">−0.2</text>
<text transform="translate(630.50 1121.45) rotate(0.03) scale(1 1.04)">−0.4</text>
<text transform="translate(630.50 1167.20) rotate(0.03) scale(1 1.04)">−0.6</text>
<text transform="translate(630.50 1212.95) rotate(0.03) scale(1 1.04)">−0.8</text>
<text transform="translate(630.50 1258.70) rotate(0.03) scale(1 1.04)">−1</text>
</g>
<rect x="627.85" y="799.89" width="2.19" height="1.84" fill="#fff"/>
<rect x="631.33" y="799.89" width="2.11" height="1.84" fill="#fff"/>
<rect x="630.92" y="1257.39" width="2.19" height="1.84" fill="#fff"/>
<rect x="634.40" y="1257.39" width="2.11" height="1.84" fill="#fff"/>
</svg>
</body></html>
